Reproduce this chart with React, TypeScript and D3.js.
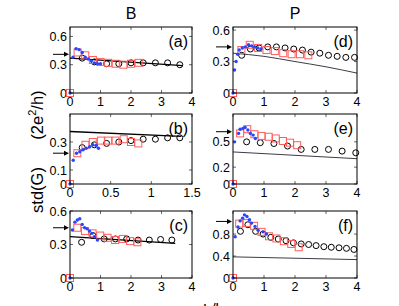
import React, { useEffect, useRef } from 'react';
import * as d3 from 'd3';

type Pt = [number, number];

// ---- panel (a): B, top ----
const aCircles: Pt[] = [[0.4, 0.37], [0.8, 0.33], [1.2, 0.31], [1.6, 0.31], [2.0, 0.32], [2.4, 0.32], [2.8, 0.32], [3.2, 0.32], [3.6, 0.3]];
const aSquares: Pt[] = [[0, 0], [0.25, 0.43], [0.5, 0.4], [0.75, 0.35], [1.0, 0.33], [1.25, 0.32], [1.5, 0.31], [1.75, 0.3], [2.0, 0.31], [2.25, 0.32]];
const aDots: Pt[] = [[0, 0], [0.1, 0.38], [0.2, 0.47], [0.3, 0.46], [0.4, 0.43], [0.5, 0.38], [0.6, 0.36], [0.7, 0.34], [0.8, 0.32], [0.9, 0.31], [1.0, 0.31]];
const aLine: Pt[] = [[0, 0.37], [3.7, 0.29]];

// ---- panel (b): B, middle ----
const bCircles: Pt[] = [[0.15, 0.26], [0.3, 0.28], [0.45, 0.29], [0.6, 0.3], [0.75, 0.31], [0.9, 0.32], [1.05, 0.32], [1.2, 0.33], [1.35, 0.33]];
const bSquares: Pt[] = [[0, 0], [0.09, 0.22], [0.19, 0.28], [0.28, 0.3], [0.38, 0.31], [0.47, 0.31], [0.56, 0.31], [0.66, 0.32], [0.75, 0.3], [0.84, 0.29]];
const bDots: Pt[] = [[0, 0], [0.04, 0.17], [0.08, 0.22], [0.12, 0.23], [0.16, 0.245], [0.2, 0.255], [0.24, 0.265], [0.28, 0.28], [0.32, 0.275], [0.35, 0.255]];
const bLine: Pt[] = [[0, 0.375], [1.37, 0.34]];

// ---- panel (c): B, bottom ----
const cCircles: Pt[] = [[0.38, 0.32], [0.75, 0.38], [1.12, 0.35], [1.49, 0.35], [1.86, 0.35], [2.23, 0.34], [2.6, 0.34], [2.97, 0.345], [3.34, 0.34]];
const cSquares: Pt[] = [[0, 0], [0.24, 0.45], [0.49, 0.42], [0.74, 0.4], [0.99, 0.38], [1.23, 0.36], [1.48, 0.34], [1.73, 0.35], [1.97, 0.33], [2.21, 0.32]];
const cDots: Pt[] = [[0, 0], [0.08, 0.43], [0.16, 0.5], [0.24, 0.52], [0.32, 0.53], [0.4, 0.48], [0.48, 0.45], [0.56, 0.44], [0.64, 0.42], [0.72, 0.4], [0.8, 0.37], [0.9, 0.34]];
const cLine: Pt[] = [[0, 0.37], [3.45, 0.31]];

// ---- panel (d): P, top ----
const dCircles: Pt[] = [[0.28, 0.36], [0.56, 0.42], [0.84, 0.43], [1.12, 0.44], [1.4, 0.44], [1.68, 0.43], [1.96, 0.42], [2.24, 0.41], [2.52, 0.39], [2.8, 0.38], [3.08, 0.36], [3.36, 0.35], [3.64, 0.34], [3.92, 0.34]];
const dSquares: Pt[] = [[0, 0], [0.27, 0.41], [0.54, 0.46], [0.81, 0.43], [1.08, 0.41], [1.35, 0.4], [1.62, 0.38], [1.89, 0.37], [2.16, 0.37], [2.43, 0.36]];
const dDots: Pt[] = [[0, 0], [0.05, 0.22], [0.1, 0.3], [0.15, 0.37], [0.2, 0.41], [0.3, 0.43], [0.4, 0.44], [0.5, 0.46], [0.6, 0.45], [0.7, 0.44], [0.8, 0.43], [0.9, 0.42]];
const dLine: Pt[] = [[0, 0.38], [1, 0.35], [2, 0.3], [3, 0.25], [4, 0.19]];

// ---- panel (e): P, middle ----
const eCircles: Pt[] = [[0.44, 0.5], [0.88, 0.49], [1.32, 0.48], [1.76, 0.45], [2.2, 0.41], [2.64, 0.41], [3.08, 0.41], [3.52, 0.39], [3.96, 0.37]];
const eSquares: Pt[] = [[0, 0], [0.23, 0.6], [0.46, 0.65], [0.69, 0.59], [0.92, 0.57], [1.15, 0.56], [1.38, 0.54], [1.61, 0.51], [1.84, 0.49], [2.07, 0.46]];
const eDots: Pt[] = [[0, 0], [0.05, 0.5], [0.18, 0.6], [0.23, 0.65], [0.32, 0.66], [0.39, 0.67], [0.48, 0.64], [0.56, 0.6], [0.65, 0.58], [0.72, 0.54]];
const eLine: Pt[] = [[0, 0.38], [4, 0.3]];

// ---- panel (f): P, bottom ----
const fCircles: Pt[] = [[0.24, 0.85], [0.48, 0.97], [0.73, 0.85], [0.97, 0.8], [1.22, 0.74], [1.46, 0.71], [1.71, 0.68], [1.95, 0.64], [2.2, 0.62], [2.44, 0.61], [2.68, 0.59], [2.93, 0.57], [3.17, 0.56], [3.42, 0.55], [3.66, 0.54], [3.9, 0.52]];
const fSquares: Pt[] = [[0, 0], [0.2, 0.99], [0.44, 1.0], [0.68, 0.95], [0.92, 0.84], [1.16, 0.76], [1.4, 0.72], [1.64, 0.67], [1.88, 0.62], [2.12, 0.56]];
const fDots: Pt[] = [[0, 0], [0.07, 0.75], [0.16, 0.93], [0.23, 1.04], [0.31, 1.09], [0.37, 1.15], [0.45, 1.12], [0.53, 1.06], [0.6, 1.0], [0.71, 0.94], [0.81, 0.87], [0.97, 0.84], [1.08, 0.8]];
const fLine: Pt[] = [[0, 0.385], [4, 0.335]];

const xTicks4 = [0, 1, 2, 3, 4];
const xTicksB = [0, 0.5, 1, 1.5];
const arrowLevels = [0.41, 0.22, 0.45, 0.44, 0.62, 1.03];
const panelLabels = ['(a)', '(b)', '(c)', '(d)', '(e)', '(f)'];

const W = 399;
const H = 306;
const cols = [[70, 192], [233, 357]];
const rows = [[27, 93], [114, 184], [211, 278]];

const panels = [
  { col: 0, row: 0, xMax: 4, yMax: 0.7, xTicks: xTicks4, yTicks: [0, 0.3, 0.6], circles: aCircles, squares: aSquares, dots: aDots, line: aLine, thin: false },
  { col: 0, row: 1, xMax: 1.5, yMax: 0.5, xTicks: xTicksB, yTicks: [0, 0.1, 0.3], circles: bCircles, squares: bSquares, dots: bDots, line: bLine, thin: false },
  { col: 0, row: 2, xMax: 4, yMax: 0.6, xTicks: xTicks4, yTicks: [0, 0.3, 0.6], circles: cCircles, squares: cSquares, dots: cDots, line: cLine, thin: false },
  { col: 1, row: 0, xMax: 4, yMax: 0.63, xTicks: xTicks4, yTicks: [0, 0.3, 0.6], circles: dCircles, squares: dSquares, dots: dDots, line: dLine, thin: true },
  { col: 1, row: 1, xMax: 4, yMax: 0.83, xTicks: xTicks4, yTicks: [0, 0.2, 0.5], circles: eCircles, squares: eSquares, dots: eDots, line: eLine, thin: true },
  { col: 1, row: 2, xMax: 4, yMax: 1.22, xTicks: xTicks4, yTicks: [0, 0.4, 0.8], circles: fCircles, squares: fSquares, dots: fDots, line: fLine, thin: true },
];

const FONT = "'Liberation Sans', Arial, sans-serif";

const App: React.FC = () => {
  const svgRef = useRef<SVGSVGElement>(null);

  useEffect(() => {
    if (!svgRef.current) return;
    const svg = d3.select(svgRef.current);
    svg.selectAll('*').remove();

    svg.append('rect').attr('width', W).attr('height', H).attr('fill', '#fff');

    panels.forEach((p, i) => {
      const [x0, x1] = cols[p.col];
      const [y0, y1] = rows[p.row];
      const x = d3.scaleLinear().domain([0, p.xMax]).range([x0, x1]);
      const y = d3.scaleLinear().domain([0, p.yMax]).range([y1, y0]);
      const g = svg.append('g');

      // ticks inside, mirrored on top/right
      p.xTicks.forEach(t => {
        g.append('line').attr('x1', x(t)).attr('x2', x(t)).attr('y1', y1).attr('y2', y1 - 3)
          .attr('stroke', '#000').attr('stroke-width', 0.6);
        g.append('line').attr('x1', x(t)).attr('x2', x(t)).attr('y1', y0).attr('y2', y0 + 3)
          .attr('stroke', '#000').attr('stroke-width', 0.6);
        g.append('text').attr('x', x(t)).attr('y', y1 + 13).attr('text-anchor', 'middle')
          .style('font-family', FONT).style('font-size', '12.5px').text(String(t));
      });
      p.yTicks.forEach(t => {
        g.append('line').attr('x1', x0).attr('x2', x0 + 3).attr('y1', y(t)).attr('y2', y(t))
          .attr('stroke', '#000').attr('stroke-width', 0.6);
        g.append('line').attr('x1', x1).attr('x2', x1 - 3).attr('y1', y(t)).attr('y2', y(t))
          .attr('stroke', '#000').attr('stroke-width', 0.6);
        g.append('text').attr('x', x0 - 3).attr('y', y(t)).attr('dy', '0.36em').attr('text-anchor', 'end')
          .style('font-family', FONT).style('font-size', '12.5px').text(String(t));
      });

      // theory line
      const line = d3.line<Pt>().x(d => x(d[0])).y(d => y(d[1])).curve(d3.curveMonotoneX);
      g.append('path').datum(p.line).attr('d', line).attr('fill', 'none')
        .attr('stroke', p.thin ? '#3c3c48' : '#000').attr('stroke-width', p.thin ? 1 : 1.3);

      // open circles
      g.selectAll('circle.c').data(p.circles).enter().append('circle')
        .attr('cx', d => x(d[0])).attr('cy', d => y(d[1])).attr('r', 3)
        .attr('fill', 'none').attr('stroke', '#000').attr('stroke-width', 1);

      // open squares
      const s = 7;
      g.selectAll('rect.s').data(p.squares).enter().append('rect')
        .attr('x', d => x(d[0]) - s / 2).attr('y', d => y(d[1]) - s / 2)
        .attr('width', s).attr('height', s)
        .attr('fill', 'none').attr('stroke', '#ff5c5c').attr('stroke-width', 1);

      // blue dots
      g.selectAll('circle.d').data(p.dots).enter().append('circle')
        .attr('cx', d => x(d[0])).attr('cy', d => y(d[1])).attr('r', 1.7)
        .attr('fill', '#2b45ff');

      // box
      g.append('rect').attr('x', x0).attr('y', y0).attr('width', x1 - x0).attr('height', y1 - y0)
        .attr('fill', 'none').attr('stroke', '#000').attr('stroke-width', 1);

      // arrow
      const ay = y(arrowLevels[i]);
      g.append('line').attr('x1', x0 - 17).attr('x2', x0 - 4).attr('y1', ay).attr('y2', ay)
        .attr('stroke', '#000').attr('stroke-width', 1);
      g.append('path').attr('d', `M${x0 - 1},${ay} L${x0 - 6},${ay - 2.5} L${x0 - 6},${ay + 2.5} Z`)
        .attr('fill', '#000');

      // panel label
      g.append('text').attr('x', x1 - 4).attr('y', y0 + 20).attr('text-anchor', 'end')
        .style('font-family', FONT).style('font-size', '16px').text(panelLabels[i]);
    });

    // column titles
    svg.append('text').attr('x', 131).attr('y', 19).attr('text-anchor', 'middle')
      .style('font-family', FONT).style('font-size', '16px').text('B');
    svg.append('text').attr('x', 295).attr('y', 19).attr('text-anchor', 'middle')
      .style('font-family', FONT).style('font-size', '16px').text('P');

    // y label
    const yl = svg.append('g').attr('transform', 'translate(43,0) rotate(-90)');
    yl.append('text').attr('x', -190).attr('y', 0).attr('text-anchor', 'middle')
      .style('font-family', FONT).style('font-size', '16.5px').text('std(G)');
    const t2 = yl.append('text').attr('x', -115).attr('y', 0).attr('text-anchor', 'middle')
      .style('font-family', FONT).style('font-size', '16.5px');
    t2.append('tspan').text('(2e');
    t2.append('tspan').attr('dy', -7).style('font-size', '11px').text('2');
    t2.append('tspan').attr('dy', 7).text('/h)');

    // x label (cut by page bottom, as in the reference)
    svg.append('text').attr('x', 211).attr('y', 314).attr('text-anchor', 'middle')
      .style('font-family', FONT).style('font-size', '15px').text('L/l');
  }, []);

  return (
    <div style={{ position: 'absolute', left: 0, top: 0 }}>
      <svg ref={svgRef} width={W} height={H} style={{ display: 'block' }}></svg>
    </div>
  );
};

export default App;
